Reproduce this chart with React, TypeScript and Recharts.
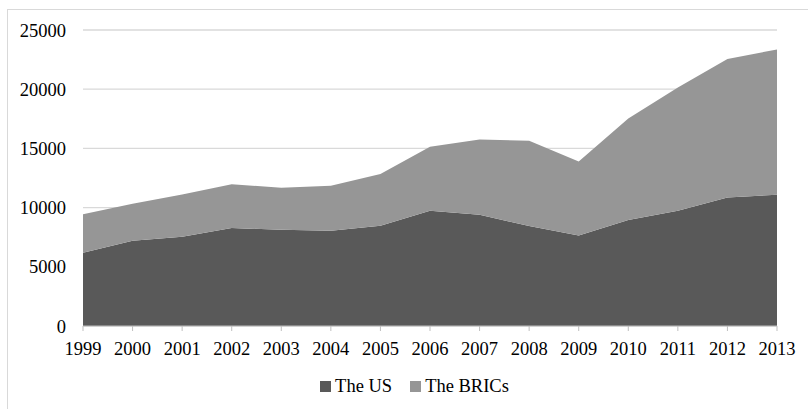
import React from 'react';
import { AreaChart, Area, XAxis, YAxis, CartesianGrid, Legend } from 'recharts';

const years = ['1999', '2000', '2001', '2002', '2003', '2004', '2005', '2006', '2007', '2008', '2009', '2010', '2011', '2012', '2013'];
const usValues = [6190, 7200, 7540, 8270, 8130, 8040, 8470, 9730, 9390, 8440, 7650, 8950, 9730, 10860, 11080];
const bricsValues = [3240, 3120, 3560, 3710, 3540, 3800, 4360, 5400, 6360, 7200, 6250, 8580, 10410, 11700, 12270];
const yTicks = [0, 5000, 10000, 15000, 20000, 25000];
const seriesNames = ['The US', 'The BRICs'];

const US_COLOR = '#595959';
const BRICS_COLOR = '#969696';
const FONT = "'Liberation Serif', Tinos, 'Times New Roman', Times, 'DejaVu Serif', serif";

const data = years.map((year, i) => ({ year, us: usValues[i], brics: bricsValues[i] }));

function LegendContent({ payload }: any) {
    const items = (Array.isArray(payload) ? payload : [])
        .slice()
        .sort((a: any, b: any) => seriesNames.indexOf(a.value) - seriesNames.indexOf(b.value));
    return (
        <div style={{ display: 'flex', justifyContent: 'center', fontFamily: FONT, fontSize: 18.5, color: '#000' }}>
            {items.map((item: any, i: number) => (
                <div key={item.value} style={{ display: 'flex', alignItems: 'center', marginLeft: i === 0 ? 0 : 18 }}>
                    <span style={{ width: 11, height: 11, background: item.color, display: 'inline-block', marginRight: 4 }} />
                    <span style={{ fontFamily: FONT }}>{item.value}</span>
                </div>
            ))}
        </div>
    );
}

export default function App() {
    return (
        <div style={{ position: 'fixed', left: 0, top: 0, width: 808, height: 409, overflow: 'hidden', background: '#fff', fontFamily: FONT }}>
            <div style={{ position: 'absolute', left: 7, top: 9, width: 830, height: 430, border: '1px solid #d9d9d9', boxSizing: 'border-box' }} />
            <div style={{ position: 'absolute', left: 0, top: 0 }}>
                <AreaChart width={808} height={409} data={data} margin={{ top: 30, right: 31, left: 0, bottom: 13 }} style={{ fontFamily: FONT }}>
                    <CartesianGrid vertical={false} stroke="#d9d9d9" strokeWidth={1.3} />
                    <XAxis
                        dataKey="year"
                        height={30}
                        stroke="#bfbfbf"
                        tickSize={5}
                        tickMargin={11}
                        interval={0}
                        tick={{ fill: '#000', fontSize: 18.5, fontFamily: FONT }}
                    />
                    <YAxis
                        width={83}
                        domain={[0, 25000]}
                        ticks={yTicks}
                        axisLine={false}
                        tickLine={false}
                        tickSize={6}
                        tickMargin={11}
                        tick={{ fill: '#000', fontSize: 18.5, fontFamily: FONT }}
                    />
                    <Legend
                        verticalAlign="bottom"
                        height={40}
                        content={<LegendContent />}
                        wrapperStyle={{ top: 376, bottom: 'auto', left: 0, width: 829 }}
                    />
                    <Area
                        type="linear"
                        dataKey="us"
                        name={seriesNames[0]}
                        stackId="a"
                        stroke="none"
                        fill={US_COLOR}
                        fillOpacity={1}
                        isAnimationActive={false}
                    />
                    <Area
                        type="linear"
                        dataKey="brics"
                        name={seriesNames[1]}
                        stackId="a"
                        stroke="none"
                        fill={BRICS_COLOR}
                        fillOpacity={1}
                        isAnimationActive={false}
                    />
                </AreaChart>
            </div>
        </div>
    );
}
